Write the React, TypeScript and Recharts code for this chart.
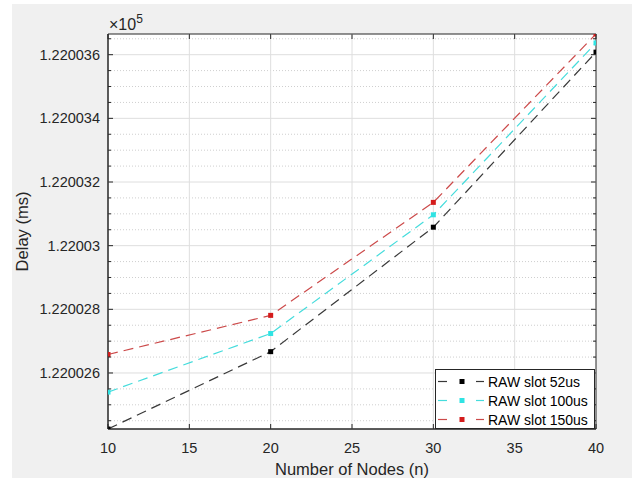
import React from 'react';
import { LineChart, Line, XAxis, YAxis, CartesianGrid, ReferenceLine, ReferenceArea, Legend } from 'recharts';

// ---- data ----
const nodes = [10, 20, 30, 40];
const raw52 = [122002.424, 122002.667, 122003.058, 122003.608];
const raw100 = [122002.540, 122002.724, 122003.097, 122003.637];
const raw150 = [122002.658, 122002.781, 122003.136, 122003.665];

const xTicks = [10, 15, 20, 25, 30, 35, 40];
const xGrid = [15, 20, 25, 30, 35];
const yMajorTicks = [122002.6, 122002.8, 122003.0, 122003.2, 122003.4, 122003.6];
const yMinorOffsets = [-0.15, -0.1, -0.05, 0.05, 0.1, 0.15];

const seriesNames = ['RAW slot 52us', 'RAW slot 100us', 'RAW slot 150us'];
const seriesKeys = ['s52', 's100', 's150'];
const lineColors = ['#383838', '#45dcdc', '#cc4a4a'];
const markerColors = ['#000000', '#2fe3e3', '#d41c1c'];

const yDomain: [number, number] = [Math.min(...raw52), Math.max(...raw150)];

const yMinorTicks = Array.from(
  new Set(
    yMajorTicks
      .flatMap((m) => yMinorOffsets.map((o) => Math.round((m + o) * 1000) / 1000))
      .filter((v) => v >= yDomain[0] && v <= yDomain[1] && !yMajorTicks.includes(v))
  )
).sort((a, b) => a - b);
const yAllTicks = [...yMinorTicks, ...yMajorTicks].sort((a, b) => a - b);

const chartData = nodes.map((n, i) => ({ n, s52: raw52[i], s100: raw100[i], s150: raw150[i] }));

// ---- layout ----
const W = 632;
const H = 479;
const MARGIN = { top: 34, right: 36, bottom: 0, left: 0 };
const Y_AXIS_W = 108;
const X_AXIS_H = 50;
const PLOT_RIGHT = W - MARGIN.right;
const PLOT_TOP = MARGIN.top;
const FONT = '"Liberation Sans", Arial, Helvetica, sans-serif';
const AX = '#262626';

const fmtY = (v: number) => {
  let s = (v / 1e5).toFixed(6);
  s = s.replace(/0+$/, '').replace(/\.$/, '');
  return s;
};

const YTick = (props: any) => {
  const { x, y, payload } = props;
  const v = payload.value;
  const isMajor = yMajorTicks.some((m) => Math.abs(m - v) < 1e-6);
  const len = isMajor ? 5 : 3;
  return (
    <g>
      <line x1={x} y1={y} x2={x + len} y2={y} stroke={AX} strokeWidth={1} />
      <line x1={PLOT_RIGHT} y1={y} x2={PLOT_RIGHT - len} y2={y} stroke={AX} strokeWidth={1} />
      {isMajor && (
        <text x={x - 8} y={y} textAnchor="end" dominantBaseline="central" fontFamily={FONT} fontSize={14.5} fill={AX}>
          {fmtY(v)}
        </text>
      )}
    </g>
  );
};

const XTick = (props: any) => {
  const { x, y, payload } = props;
  return (
    <g>
      <line x1={x} y1={y} x2={x} y2={y - 5} stroke={AX} strokeWidth={1} />
      <line x1={x} y1={PLOT_TOP} x2={x} y2={PLOT_TOP + 5} stroke={AX} strokeWidth={1} />
      <text x={x} y={y + 19} textAnchor="middle" dominantBaseline="central" fontFamily={FONT} fontSize={14.5} fill={AX}>
        {payload.value}
      </text>
    </g>
  );
};

const XLabel = (props: any) => {
  const vb = props.viewBox || {};
  return (
    <text x={vb.x + vb.width / 2} y={vb.y + 40} textAnchor="middle" dominantBaseline="central" fontFamily={FONT} fontSize={16.5} fill={AX}>
      Number of Nodes (n)
    </text>
  );
};

const YLabel = (props: any) => {
  const vb = props.viewBox || {};
  const cx = vb.x + 22;
  const cy = vb.y + vb.height / 2;
  const right = vb.x + vb.width;
  return (
    <g>
      <text x={cx} y={cy} transform={`rotate(-90 ${cx} ${cy})`} textAnchor="middle" dominantBaseline="central" fontFamily={FONT} fontSize={16.5} fill={AX}>
        Delay (ms)
      </text>
      <text x={right + 1} y={vb.y - 4} fontFamily={FONT} fontSize={16} fill={AX}>
        <tspan>×10</tspan>
        <tspan dy={-7} fontSize={12}>5</tspan>
      </text>
    </g>
  );
};

const makeDot = (color: string) => (props: any) => {
  const { cx, cy, index } = props;
  return <rect key={`d-${color}-${index}`} x={cx - 2.5} y={cy - 2.5} width={5} height={5} fill={color} />;
};

const LegendBox = () => (
  <div
    style={{
      width: 160,
      height: 60,
      boxSizing: 'border-box',
      border: `1px solid ${AX}`,
      background: '#fff',
      fontFamily: FONT,
      fontSize: 14,
      color: '#000',
      paddingTop: 2,
    }}
  >
    {seriesNames.map((name, i) => (
      <div key={name} style={{ display: 'flex', alignItems: 'center', height: 19 }}>
        <svg width={52} height={19} style={{ display: 'block' }}>
          <line x1={2} y1={9.5} x2={11} y2={9.5} stroke={lineColors[i]} strokeWidth={1.2} />
          <rect x={23.5} y={7} width={5} height={5} fill={markerColors[i]} />
          <line x1={40} y1={9.5} x2={48} y2={9.5} stroke={lineColors[i]} strokeWidth={1.2} />
        </svg>
        <span style={{ whiteSpace: 'nowrap' }}>{name}</span>
      </div>
    ))}
  </div>
);

export default function App() {
  return (
    <div style={{ position: 'absolute', left: 0, top: 0, width: W, height: H, background: '#fff' }}>
      <div style={{ position: 'absolute', left: 12, top: 4, width: W - 12, height: 474, background: '#f0f0f0' }} />
      <div style={{ position: 'absolute', left: 0, top: 0 }}>
        <LineChart width={W} height={H} data={chartData} margin={MARGIN}>
          <CartesianGrid horizontal={false} vertical={false} fill="#ffffff" />
          {yMinorTicks.map((v) => (
            <ReferenceLine key={`ym-${v}`} y={v} stroke="#cfcfcf" strokeDasharray="1 2" strokeWidth={1} />
          ))}
          {yMajorTicks.map((v) => (
            <ReferenceLine key={`yM-${v}`} y={v} stroke="#dedede" strokeWidth={1} />
          ))}
          {xGrid.map((v) => (
            <ReferenceLine key={`x-${v}`} x={v} stroke="#dedede" strokeWidth={1} />
          ))}
          <XAxis
            dataKey="n"
            type="number"
            domain={[10, 40]}
            ticks={xTicks}
            interval={0}
            height={X_AXIS_H}
            tickSize={0}
            tickMargin={0}
            tickLine={false}
            axisLine={{ stroke: AX, strokeWidth: 1 }}
            tick={<XTick />}
            label={<XLabel />}
            allowDataOverflow
          />
          <YAxis
            type="number"
            domain={yDomain}
            ticks={yAllTicks}
            interval={0}
            width={Y_AXIS_W}
            tickSize={0}
            tickMargin={0}
            tickLine={false}
            axisLine={{ stroke: AX, strokeWidth: 1 }}
            tick={<YTick />}
            label={<YLabel />}
            allowDataOverflow
          />
          <ReferenceArea x1={10} x2={40} y1={yDomain[0]} y2={yDomain[1]} stroke={AX} strokeWidth={1} fill="none" fillOpacity={0} />
          {seriesKeys.map((k, i) => (
            <Line
              key={k}
              dataKey={k}
              name={seriesNames[i]}
              type="linear"
              stroke={lineColors[i]}
              strokeWidth={1.2}
              strokeDasharray="10 6"
              dot={makeDot(markerColors[i])}
              activeDot={false}
              isAnimationActive={false}
            />
          ))}
          <Legend
            layout="vertical"
            align="center"
            verticalAlign="middle"
            content={<LegendBox />}
            wrapperStyle={{ left: 435, top: 369, width: 160, height: 60 }}
          />
        </LineChart>
      </div>
    </div>
  );
}
